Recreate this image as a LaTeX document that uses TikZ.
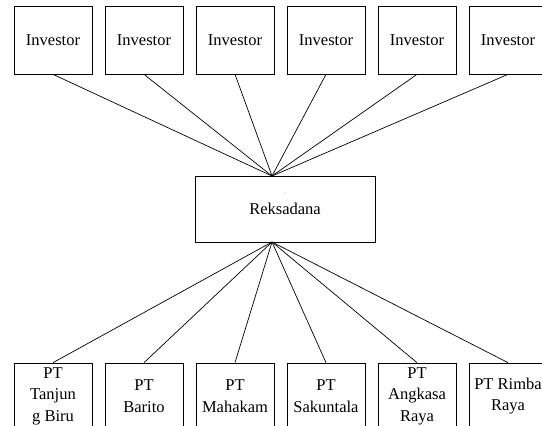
\documentclass[tikz,border=0pt]{standalone}
\usepackage{fontspec}
\setmainfont{Liberation Serif}
\usetikzlibrary{positioning}
\begin{document}
\begin{tikzpicture}[x=1pt,y=-1pt,line width=0.7pt,
    nodes={draw, minimum width=78pt, minimum height=68pt, align=center, inner sep=2pt, font=\fontsize{16.5}{21.5}\selectfont}]
	\clip (0,0) rectangle (542,426);
	% investor
	\node (i1) at (53,40) {Investor};
	\node (i2) [right = 12.3pt of i1] {Investor};
	\node (i3) [right = 12.3pt of i2] {Investor};
	\node (i4) [right = 12.3pt of i3] {Investor};
	\node (i5) [right = 12.3pt of i4] {Investor};
	\node (i6) [right = 12.3pt of i5] {Investor};
	% reksadana
	\node (rd) [minimum width=180pt, minimum height=66pt] at (285,209) {Reksadana};
	\node (dot) [draw=none, minimum width=0pt, minimum height=0pt, inner sep=0pt, font=\tiny] at (285,193) {.};
	\coordinate (rdtop) at (272,176);
	\coordinate (rdbot) at (272,242);
	% perusahaan
	\node (p1) [minimum height=66pt] at (53,396) {PT\\Tanjun\\g Biru};
	\node (p2) [minimum height=66pt, right = 12.3pt of p1] {PT\\Barito};
	\node (p3) [minimum height=66pt, right = 12.3pt of p2] {PT\\Mahakam};
	\node (p4) [minimum height=66pt, right = 12.3pt of p3] {PT\\Sakuntala};
	\node (p5) [minimum height=66pt, right = 12.3pt of p4] {PT\\Angkasa\\Raya};
	\node (p6) [minimum height=66pt, right = 12.3pt of p5] {PT Rimba\\Raya};
	\foreach \i in {1,...,6}
		\draw (i\i.south) -- (rdtop);
	\foreach \i in {1,...,6}
		\draw (p\i.north) -- (rdbot);
\end{tikzpicture}
\end{document}
